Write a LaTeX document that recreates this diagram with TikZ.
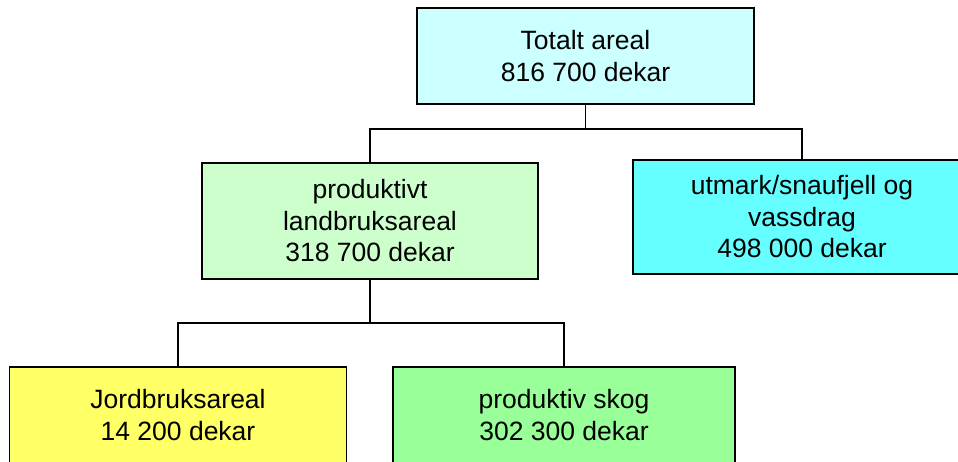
\documentclass[tikz,border=0pt]{standalone}
\usepackage{fontspec}
\setmainfont{Liberation Sans}
\definecolor{totalfill}{HTML}{CCFFFF}
\definecolor{landfill}{HTML}{CCFFCC}
\definecolor{utmarkfill}{HTML}{66FFFF}
\definecolor{jordfill}{HTML}{FFFF66}
\definecolor{skogfill}{HTML}{99FF99}
\tikzset{
    areabox/.style={draw=black,line width=1.6pt,align=center,inner sep=0pt,
        minimum width=337pt,minimum height=96pt,
        font=\fontsize{26.5}{31.5}\selectfont},
    branch/.style={line width=1.6pt,line cap=rect}
}
\begin{document}
\begin{tikzpicture}[x=1pt,y=1pt]
        \clip (0,0) rectangle (958,461);
        %% top level
        \node[areabox,fill=totalfill] (total) at (585.5,405) {Totalt areal\\816 700 dekar};
        %% second level
        \node[areabox,fill=landfill,minimum width=336pt,minimum height=116pt] (land) at (370,240)
            {produktivt\\landbruksareal\\318 700 dekar};
        \node[areabox,fill=utmarkfill,minimum width=338pt,minimum height=114pt] (utmark) at (802,244)
            {utmark/snaufjell og\\vassdrag\\498 000 dekar};
        %% third level
        \node[areabox,fill=jordfill] (jord) at (178,46) {Jordbruksareal\\14 200 dekar};
        \node[areabox,fill=skogfill,minimum width=342pt] (skog) at (564,46) {produktiv skog\\302 300 dekar};
        %% branches
        \draw[branch] (total.south) -- ++(0,-24) coordinate (fork1);
        \draw[branch] (land.north) |- (fork1) -| (utmark.north);
        \draw[branch] (land.south) -- ++(0,-43) coordinate (fork2);
        \draw[branch] (jord.north) |- (fork2) -| (skog.north);
    \end{tikzpicture}
\end{document}
